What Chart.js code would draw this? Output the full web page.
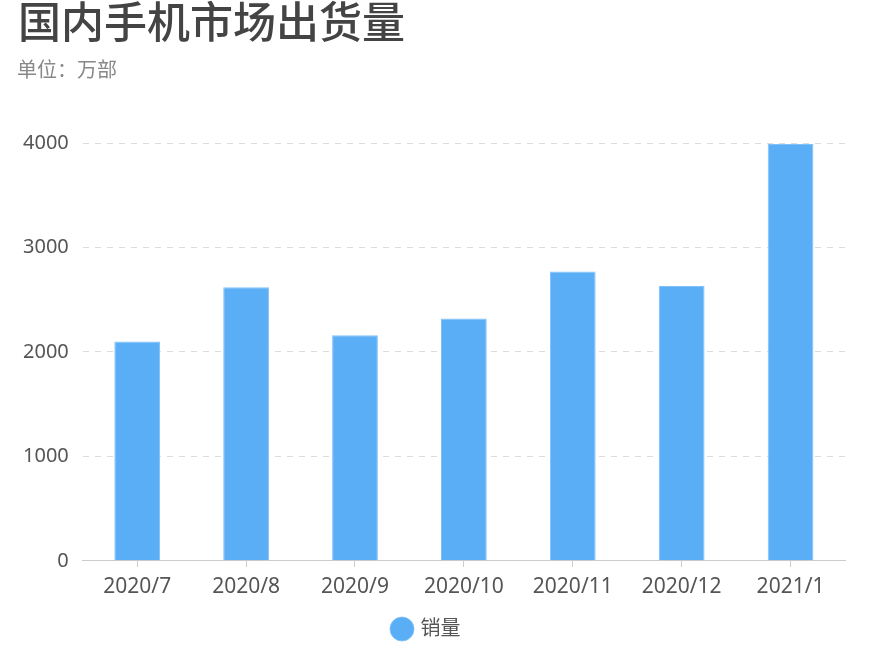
<!DOCTYPE html>
<html>
<head>
<meta charset="utf-8">
<script src="https://cdn.jsdelivr.net/npm/chart.js@4"></script>
<style>
  body { margin: 0; background: #fff; }
  #wrap { position: relative; width: 877px; height: 645px; }
  #title { position: absolute; left: 18px; top: -7px; font: 500 43px "Noto Sans CJK SC", sans-serif; color: #444; line-height: 52px; white-space: nowrap; }
  #subtitle { position: absolute; left: 17px; top: 55px; font: 20px "Noto Sans CJK SC", sans-serif; color: #888; line-height: 28px; white-space: nowrap; }
  canvas { position: absolute; left: 0; top: 0; }
</style>
</head>
<body>
<div id="wrap">
  <canvas id="chart" width="877" height="645"></canvas>
  <div id="title">国内手机市场出货量</div>
  <div id="subtitle">单位：万部</div>
</div>
<script>
//chart data
var months = ['2020/7', '2020/8', '2020/9', '2020/10', '2020/11', '2020/12', '2021/1'];
var sales = [2100, 2620, 2160, 2320, 2770, 2630, 3990];
var yTicks = [0, 1000, 2000, 3000, 4000];
var seriesName = '销量';

function plot(element) {
    const ctx = document.getElementById(element).getContext('2d');
    const fontFamily = '"Noto Sans", "Noto Sans CJK SC", sans-serif';

    new Chart(ctx, {
      type: 'bar',
      data: {
        labels: months,
        datasets: [{
          label: seriesName,
          data: sales,
          backgroundColor: '#5aaef5',
          borderColor: '#7fc0f8',
          borderWidth: { top: 1, left: 1, right: 1, bottom: 0 },
          categoryPercentage: 1,
          barPercentage: 0.42
        }]
      },
      options: {
        responsive: false,
        animation: false,
        layout: { padding: { top: 143, left: 9, right: 32, bottom: -4 } },
        scales: {
          x: {
            grid: { display: true, offset: false, drawOnChartArea: false, drawTicks: true, tickLength: 6, color: '#ccc' },
            border: { display: true, color: '#ccc', width: 1 },
            ticks: { color: '#555', font: { family: fontFamily, size: 21 }, padding: 8 },
            afterFit: function (axis) { axis.height += 7; }
          },
          y: {
            min: yTicks[0],
            max: yTicks[yTicks.length - 1],
            afterBuildTicks: function (axis) { axis.ticks = yTicks.map(function (v) { return { value: v }; }); },
            grid: { color: '#dedede', drawTicks: false },
            border: { display: false, dash: [6, 6] },
            ticks: {
              color: '#555',
              font: { family: fontFamily, size: 20 },
              padding: 14,
              callback: function (value) { return String(value); }
            }
          }
        },
        plugins: {
          legend: {
            position: 'bottom',
            labels: {
              usePointStyle: true,
              pointStyle: 'circle',
              boxWidth: 17,
              boxHeight: 17,
              padding: 4,
              color: '#555',
              font: { family: fontFamily, size: 20 }
            }
          },
          tooltip: { enabled: false }
        }
      }
    });
}

plot('chart');
</script>
</body>
</html>
